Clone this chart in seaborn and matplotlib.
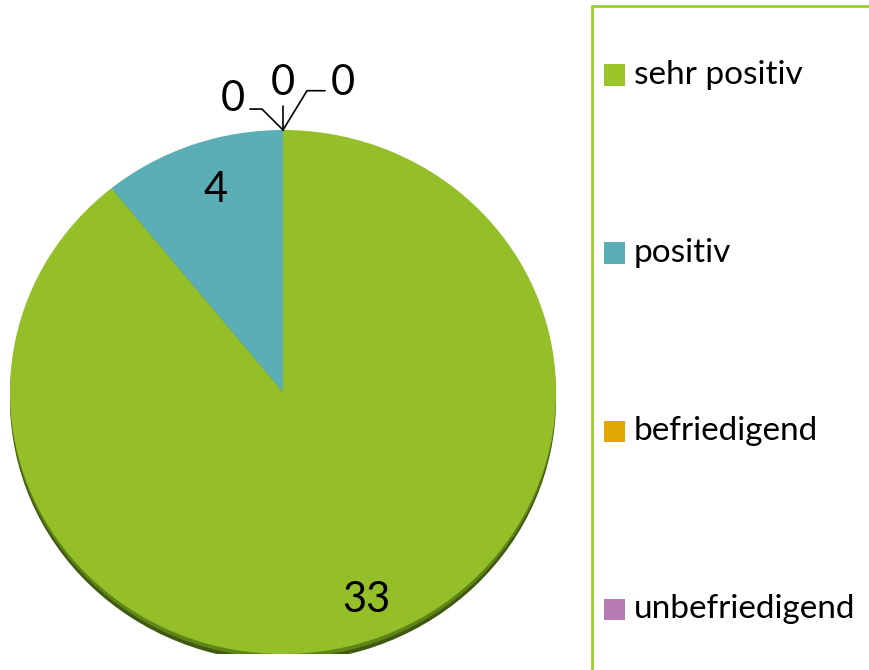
import numpy as np
import matplotlib
matplotlib.use("Agg")
import matplotlib.pyplot as plt
from matplotlib.patches import Ellipse, Rectangle
import seaborn as sns

# ---- data ----
categories = ["sehr positiv", "positiv", "befriedigend", "unbefriedigend", "sehr unbefriedigend"]
values = [33, 4, 0, 0, 0]
colors = ["#94BF29", "#5BADB6", "#E2A700", "#B77AB4", "#C0504D"]
legend_colors = ["#9AC62A", "#5BADB6", "#E2A700", "#B77AB4", "#C0504D"]

sns.set_theme(style="white")
plt.rcParams["font.family"] = ["Lato", "DejaVu Sans"]

W, H = 869, 670
fig = plt.figure(figsize=(W / 100, H / 100), dpi=100)

# pie axes (elliptical pie, slightly flattened)
cx, cy, rx, ry = 283, 392, 273, 262
ax = fig.add_axes([(cx - rx) / W, (H - cy - ry) / H, 2 * rx / W, 2 * ry / H])
ax.set_xlim(-1, 1)
ax.set_ylim(-1, 1)

# shadow / 3D edge
ax.add_patch(Ellipse((0, -0.03), 2.0, 2.0, facecolor="#3F5A10", edgecolor="none", zorder=0))
ax.add_patch(Ellipse((0, -0.015), 2.0, 2.0, facecolor="#5F8418", edgecolor="none", zorder=0.5))

wedges, _ = ax.pie(values, colors=colors, startangle=90, counterclock=False,
                   radius=1.0, wedgeprops=dict(linewidth=0), frame=False)
for w in wedges:
    w.set_zorder(1)
ax.set_xlim(-1, 1)
ax.set_ylim(-1, 1)
ax.set_aspect("auto")
ax.axis("off")

# data labels
for w, v in zip(wedges, values):
    if v > 0:
        mid = np.deg2rad((w.theta1 + w.theta2) / 2)
        r = 0.83
        ax.text(r * np.cos(mid) + 0.03, r * np.sin(mid) - 0.01, str(v), ha="center", va="center",
                fontsize=30, color="black", zorder=5)

# zero labels with leader lines
zero_idx = [i for i, v in enumerate(values) if v == 0]
text_pos = [(-0.185, 1.12), (0.0, 1.18), (0.22, 1.18)]
elbow = [(-0.077, 1.08), (0.0, 1.09), (0.088, 1.15)]
ends = [(-0.121, 1.08), (0.0, 1.09), (0.154, 1.15)]
for k, i in enumerate(zero_idx):
    w = wedges[i]
    ang = np.deg2rad(w.theta1)
    px, py = np.cos(ang), np.sin(ang)
    ex, ey = elbow[k]
    fx, fy = ends[k]
    ax.plot([px, ex, fx], [py, ey, fy], color="black", lw=1.2, clip_on=False, zorder=5)
    ax.text(text_pos[k][0], text_pos[k][1], str(values[i]), ha="center", va="center",
            fontsize=30, color="black", clip_on=False, zorder=5)

# legend box (extends beyond the image)
lx, ly = 592, 6
fig.patches.append(Rectangle((lx / W, -0.2), 1.0, (H - ly) / H + 0.2, transform=fig.transFigure,
                             facecolor="none", edgecolor="#9ACD32", linewidth=2, zorder=0))
for i, (cat, c) in enumerate(zip(categories, legend_colors)):
    yc = 75 + 178 * i
    if yc > H:
        continue  # entry lies below the visible area
    fig.patches.append(Rectangle((604 / W, (H - yc - 10.5) / H), 21 / W, 21 / H,
                                 transform=fig.transFigure, facecolor=c, edgecolor="none"))
    fig.text(634 / W, (H - yc) / H, cat, ha="left", va="center", fontsize=24, color="black")

fig.savefig("out.png", dpi=100)
